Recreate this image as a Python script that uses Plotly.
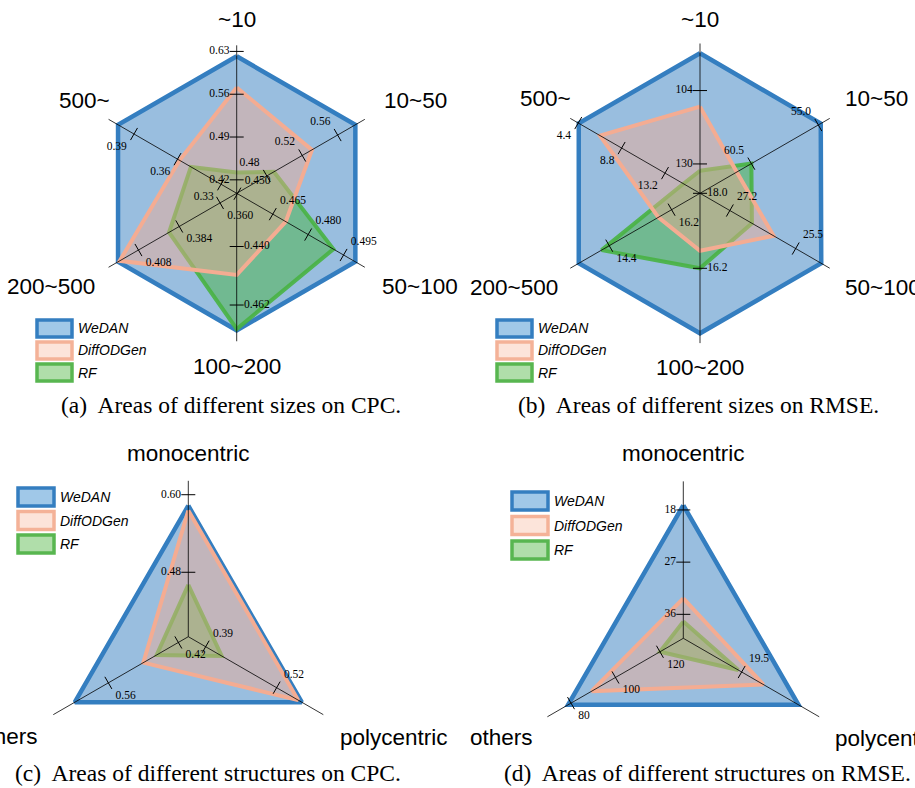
import math
import plotly.graph_objects as go

# the page body margin is removed (see post_script) so the figure fills the window
OFF = 0
W, H = 915, 788

# ---------------- data ----------------
SIZE_CATS = ["~10", "10~50", "50~100", "100~200", "200~500", "500~"]
STRUCT_CATS = ["monocentric", "polycentric", "others"]
SERIES = ["WeDAN", "DiffODGen", "RF"]

# (a) CPC by area size
A_WEDAN = [0.622, 0.580, 0.500, 0.4715, 0.420, 0.401]
A_DIFF = [0.571, 0.531, 0.4705, 0.4507, 0.419, 0.3586]
A_RF = [0.432, 0.488, 0.4907, 0.471, 0.390, 0.3508]
A_LO = [0.398, 0.446, 0.4497, 0.420, 0.3502, 0.3192]
A_HI = [0.622, 0.580, 0.500, 0.4715, 0.420, 0.401]
A_TICKS = [[0.42, 0.49, 0.56, 0.63], [0.48, 0.52, 0.56], [0.450, 0.465, 0.480, 0.495],
           [0.440, 0.462], [0.360, 0.384, 0.408], [0.33, 0.36, 0.39]]
A_TICKTEXT = [["0.42", "0.49", "0.56", "0.63"], ["0.48", "0.52", "0.56"],
              ["0.450", "0.465", "0.480", "0.495"], ["0.440", "0.462"],
              ["0.360", "0.384", "0.408"], ["0.33", "0.36", "0.39"]]

# (b) RMSE by area size (inverted axes)
B_WEDAN = [90.8, 54.8, 24.84, 14.64, 13.52, 4.45]
B_DIFF = [109.7, 61.7, 26.07, 16.62, 15.82, 6.6]
B_RF = [132.4, 60.5, 26.63, 16.2, 14.18, 15.07]
B_LO = [140.4, 64.72, 27.97, 18.0, 17.02, 16.75]
B_HI = [90.8, 54.76, 24.84, 14.64, 13.52, 4.45]
B_TICKS = [[130, 104], [60.5, 55.0], [27.2, 25.5], [18.0, 16.2], [16.2, 14.4], [13.2, 8.8, 4.4]]
B_TICKTEXT = [["130", "104"], ["60.5", "55.0"], ["27.2", "25.5"], ["18.0", "16.2"],
              ["16.2", "14.4"], ["13.2", "8.8", "4.4"]]

# (c) CPC by structure
C_WEDAN = [0.583, 0.566, 0.627]
C_DIFF = [0.5756, 0.5595, 0.490]
C_RF = [0.4605, 0.4193, 0.4634]
C_LO = [0.3803, 0.3582, 0.4001]
C_HI = [0.583, 0.566, 0.627]
C_TICKS = [[0.48, 0.60], [0.39, 0.52], [0.42, 0.56]]
C_TICKTEXT = [["0.48", "0.60"], ["0.39", "0.52"], ["0.42", "0.56"]]

# (d) RMSE by structure (inverted axes)
D_WEDAN = [17.2, 13.95, 78.7]
D_DIFF = [33.23, 17.38, 89.3]
D_RF = [37.25, 19.83, 120.0]
D_LO = [40.13, 25.20, 130.5]
D_HI = [17.2, 13.95, 78.7]
D_TICKS = [[36, 27, 18], [19.5, 13.0], [120, 100, 80]]
D_TICKTEXT = [["36", "27", "18"], ["19.5", "13.0"], ["120", "100", "80"]]

CAPTIONS = ["(a)\u00a0 Areas of different sizes on CPC.",
            "(b)\u00a0 Areas of different sizes on RMSE.",
            "(c)\u00a0 Areas of different structures on CPC.",
            "(d)\u00a0 Areas of different structures on RMSE."]

# ---------------- styles ----------------
LINE_COL = {"WeDAN": "rgb(52,126,192)", "DiffODGen": "rgb(244,172,146)", "RF": "rgba(72,178,66,0.9)"}
FILL_COL = {"WeDAN": "rgba(52,126,192,0.5)", "DiffODGen": "rgba(244,170,145,0.45)", "RF": "rgba(80,180,80,0.55)"}
LINE_W = {"WeDAN": 4.5, "DiffODGen": 4, "RF": 4}
LEG_FILL = {"WeDAN": "rgb(160,200,232)", "DiffODGen": "rgb(252,228,218)", "RF": "rgb(176,222,170)"}
LEG_LINE = {"WeDAN": "rgb(52,126,192)", "DiffODGen": "rgb(244,178,152)", "RF": "rgb(88,182,80)"}
SANS = "Liberation Sans, Arial, sans-serif"
SERIF = "Liberation Serif, Times New Roman, serif"

# geometry in window pixels (center, unit radius); converted to figure fractions below
PANELS = [
    dict(key="polar", cats=SIZE_CATS, data=[A_WEDAN, A_DIFF, A_RF], lo=A_LO, hi=A_HI,
         ticks=A_TICKS, ticktext=A_TICKTEXT, center=(236.7, 193.3), unit=137, rmax=1.2, spoke=1.08,
         label_r=[1.265, 1.225, 1.205, 1.265, 1.177, 1.05],
         label_v=[0, 9, 11, 0, 13, 21],
         tick_pos=["middle left", "top left", "top right", "middle right", "bottom right", "bottom left"],
         legend=(37, 320, 22, 35, 17), caption=(231, 405)),
    dict(key="polar2", cats=SIZE_CATS, data=[B_WEDAN, B_DIFF, B_RF], lo=B_LO, hi=B_HI,
         ticks=B_TICKS, ticktext=B_TICKTEXT, center=(700, 193.3), unit=140, rmax=1.2, spoke=1.07,
         label_r=[1.24, 1.18, 1.18, 1.245, 1.155, 1.05],
         label_v=[0, 12, 12, 0, 13, 21],
         tick_pos=["middle left", "top left", "top right", "middle right", "bottom right", "bottom left"],
         legend=(497, 320, 22, 35, 17), caption=(698, 405)),
    dict(key="polar3", cats=STRUCT_CATS, data=[C_WEDAN, C_DIFF, C_RF], lo=C_LO, hi=C_HI,
         ticks=C_TICKS, ticktext=C_TICKTEXT, center=(188.3, 636.7), unit=131, rmax=1.1, spoke=1.19,
         label_r=[1.40, 1.32, 1.307],
         label_v=[0, 14, 14],
         tick_pos=["middle left", "top right", "bottom right"],
         legend=(18, 488, 23.5, 36, 18), caption=(208, 773)),
    dict(key="polar4", cats=STRUCT_CATS, data=[D_WEDAN, D_DIFF, D_RF], lo=D_LO, hi=D_HI,
         ticks=D_TICKS, ticktext=D_TICKTEXT, center=(683.3, 638.3), unit=133, rmax=1.08, spoke=1.18,
         label_r=[1.39, 1.30, 1.287],
         label_v=[0, 14, 14],
         tick_pos=["middle left", "top right", "bottom right"],
         legend=(512, 492, 24.5, 36, 18), caption=(707, 773)),
]


def norm(vals, lo, hi):
    return [(v - l) / (h - l) for v, l, h in zip(vals, lo, hi)]


def px(x, y):
    """window pixel -> paper fraction"""
    return (x - OFF) / W, 1 - (y - OFF) / H


fig = go.Figure()
layout_polars = {}
shapes = []
annotations = []

for p in PANELS:
    key, cats = p["key"], p["cats"]
    n = len(cats)
    cx, cy = p["center"]
    # series polygons: drawing order WeDAN, RF, DiffODGen
    for si in [0, 2, 1]:
        name = SERIES[si]
        r = norm(p["data"][si], p["lo"], p["hi"])
        fig.add_trace(go.Scatterpolar(
            r=r + [r[0]], theta=cats + [cats[0]], mode="lines", fill="toself",
            fillcolor=FILL_COL[name], line=dict(color=LINE_COL[name], width=LINE_W[name]),
            subplot=key, showlegend=False, hoverinfo="skip", name=name))
    for i, c in enumerate(cats):
        theta_deg = 90 - 360.0 * i / n
        th = math.radians(theta_deg)
        # spoke (axis line) from the centre outward
        sx0, sy0 = px(cx, cy)
        sl = p["spoke"] * p["unit"]
        sx1, sy1 = px(cx + sl * math.cos(th), cy - sl * math.sin(th))
        shapes.append(dict(type="line", xref="paper", yref="paper", x0=sx0, y0=sy0,
                           x1=sx1, y1=sy1, line=dict(color="black", width=0.8), layer="above"))
        # ticks on this axis
        tr = [(t - p["lo"][i]) / (p["hi"][i] - p["lo"][i]) for t in p["ticks"][i]]
        fig.add_trace(go.Scatterpolar(
            r=tr, theta=[c] * len(tr), mode="markers+text",
            marker=dict(symbol="line-ns", size=10, angle=-theta_deg,
                        line=dict(color="black", width=1)),
            text=p["ticktext"][i], textposition=p["tick_pos"][i],
            textfont=dict(family=SERIF, size=11.5, color="black"),
            subplot=key, showlegend=False, hoverinfo="skip", cliponaxis=False))
        # category label, placed along the axis direction
        lr = p["label_r"][i] * p["unit"]
        lxp = cx + lr * math.cos(th)
        lyp = cy - lr * math.sin(th)
        s = math.sin(th)
        lyp -= p["label_v"][i] * (1 if s > 0.01 else (-1 if s < -0.01 else 0))
        cth = math.cos(th)
        xanchor = "center" if abs(cth) < 0.01 else ("left" if cth > 0 else "right")
        ax, ay = px(lxp, lyp)
        annotations.append(dict(xref="paper", yref="paper", x=ax, y=ay, xanchor=xanchor,
                                yanchor="middle", text=c, showarrow=False,
                                font=dict(family=SANS, size=22.5, color="black")))

    half = p["rmax"] * p["unit"]
    x0, y1 = px(cx - half, cy - half)
    x1, y0 = px(cx + half, cy + half)
    layout_polars[key] = dict(
        domain=dict(x=[max(0, x0), min(1, x1)], y=[max(0, y0), min(1, y1)]),
        bgcolor="rgba(0,0,0,0)",
        radialaxis=dict(visible=False, range=[0, p["rmax"]]),
        angularaxis=dict(visible=False, rotation=90, direction="clockwise",
                         type="category", categoryarray=cats),
    )

    # legend (drawn manually)
    lx, ly, step, bw, bh = p["legend"]
    for j, name in enumerate(SERIES):
        yt = ly + j * step
        bx0, by0 = px(lx, yt)
        bx1, by1 = px(lx + bw, yt + bh)
        shapes.append(dict(type="rect", xref="paper", yref="paper",
                           x0=bx0, x1=bx1, y0=by1, y1=by0,
                           fillcolor=LEG_FILL[name], line=dict(color=LEG_LINE[name], width=3.5)))
        tx, ty = px(lx + bw + 4, yt + bh / 2)
        annotations.append(dict(xref="paper", yref="paper", x=tx, y=ty,
                                xanchor="left", yanchor="middle",
                                text=name, showarrow=False,
                                font=dict(family=SANS, size=14, color="black", style="italic")))

for p, cap in zip(PANELS, CAPTIONS):
    cxp, cyp = px(*p["caption"])
    annotations.append(dict(xref="paper", yref="paper", x=cxp, y=cyp,
                            xanchor="center", yanchor="middle", text=cap, showarrow=False,
                            font=dict(family=SERIF, size=23.5, color="black")))

fig.update_layout(
    width=W, height=H, margin=dict(l=0, r=0, t=0, b=0),
    paper_bgcolor="white", plot_bgcolor="white", showlegend=False,
    shapes=shapes, annotations=annotations, **layout_polars)

fig.write_html("out.html", config={"displayModeBar": False},
               post_script="document.body.style.margin='0px';document.body.style.overflow='hidden';")
